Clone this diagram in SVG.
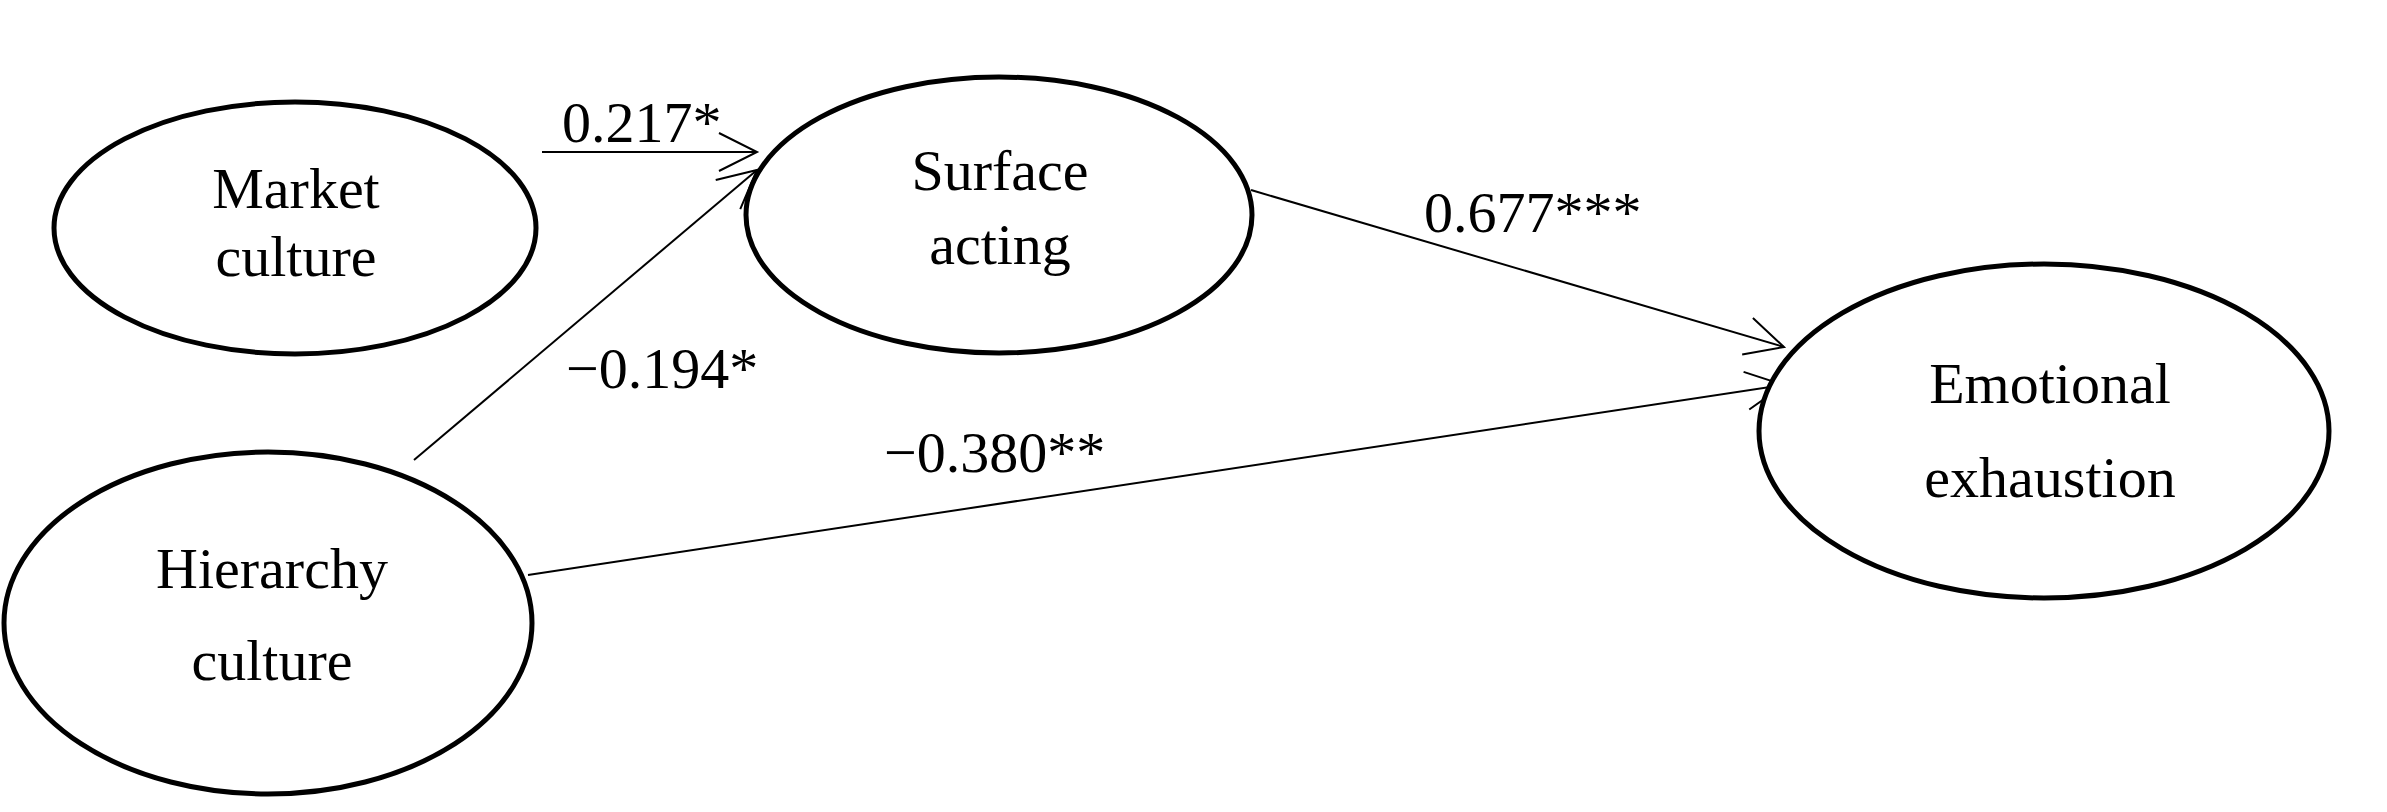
<svg xmlns="http://www.w3.org/2000/svg" width="2387" height="812" viewBox="0 0 2387 812">
<style>
.node{fill:#fff;stroke:#000;stroke-width:5}
.lbl{font-family:"Liberation Serif","Times New Roman",serif;font-size:58px;fill:#000;text-anchor:middle}
.edge{fill:none;stroke:#000;stroke-width:2;marker-end:url(#arr)}
.elbl{font-family:"Liberation Serif","Times New Roman",serif;font-size:58px;fill:#000}
</style>
<defs>
<marker id="arr" markerUnits="userSpaceOnUse" viewBox="-42 -24 46 48" markerWidth="46" markerHeight="48" refX="0" refY="0" orient="auto">
<path d="M-38,-19 L0,0 L-38,19" fill="none" stroke="#000" stroke-width="2"/>
</marker>
</defs>
<rect width="2387" height="812" fill="#fff"/>
<g id="connectors">
<line class="edge" x1="542" y1="152" x2="757" y2="152"/>
<line class="edge" x1="414" y1="460" x2="757" y2="170"/>
<line class="edge" x1="1251" y1="190" x2="1784" y2="347"/>
<line class="edge" x1="528" y1="575" x2="1784" y2="385"/>
<text class="elbl" x="562" y="142">0.217*</text>
<text class="elbl" x="566" y="388">−0.194*</text>
<text class="elbl" x="1424" y="232">0.677***</text>
<text class="elbl" x="884" y="472">−0.380**</text>
</g>
<g id="market">
<ellipse class="node" cx="295" cy="228" rx="241" ry="126"/>
<text class="lbl" x="296" y="208">Market</text>
<text class="lbl" x="296" y="276">culture</text>
</g>
<g id="surface">
<ellipse class="node" cx="999" cy="215" rx="253" ry="138"/>
<text class="lbl" x="1000" y="190">Surface</text>
<text class="lbl" x="1000" y="264">acting</text>
</g>
<g id="hierarchy">
<ellipse class="node" cx="268" cy="623" rx="264" ry="171"/>
<text class="lbl" x="272" y="588">Hierarchy</text>
<text class="lbl" x="272" y="680">culture</text>
</g>
<g id="emotional">
<ellipse class="node" cx="2044" cy="431" rx="285" ry="167"/>
<text class="lbl" x="2050" y="403">Emotional</text>
<text class="lbl" x="2050" y="497">exhaustion</text>
</g>
</svg>
